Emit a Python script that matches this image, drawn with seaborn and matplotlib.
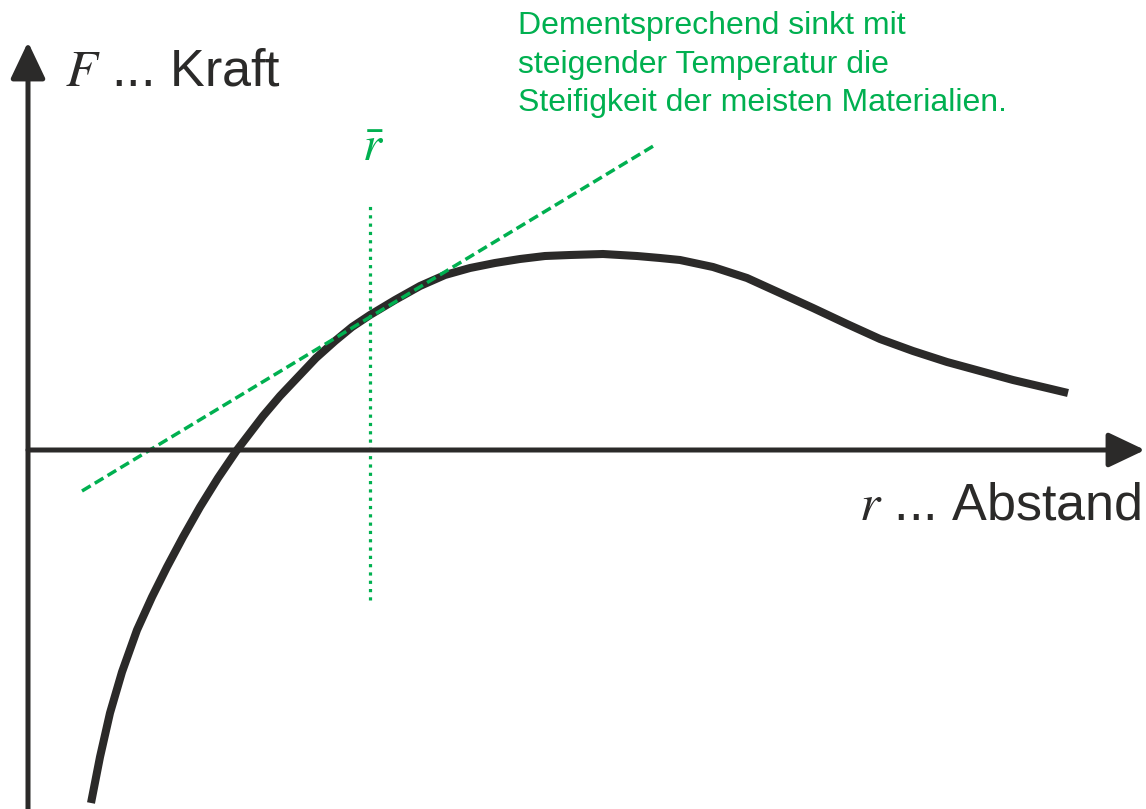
import matplotlib
matplotlib.use("Agg")
import matplotlib.pyplot as plt
import seaborn as sns
import numpy as np

# ---- data (schematic units: origin at axes crossing) ----
curve_r = [0.63, 0.72, 0.82, 0.94, 1.09, 1.24, 1.39, 1.55, 1.72, 1.90, 2.09,
           2.22, 2.35, 2.52, 2.70, 2.88, 3.07, 3.24, 3.42, 3.67, 3.92, 4.17,
           4.42, 4.67, 4.92, 5.17, 5.42, 5.75, 6.09, 6.32, 6.52, 6.85, 7.19,
           7.52, 7.85, 8.19, 8.52, 8.85, 9.19, 9.52, 9.85, 10.19, 10.40]
curve_F = [-3.53, -3.07, -2.63, -2.22, -1.80, -1.47, -1.17, -0.87, -0.57, -0.28, 0.00,
           0.17, 0.34, 0.54, 0.73, 0.92, 1.09, 1.23, 1.35, 1.50, 1.64, 1.75,
           1.82, 1.87, 1.91, 1.94, 1.95, 1.96, 1.94, 1.92, 1.90, 1.83, 1.72,
           1.57, 1.42, 1.26, 1.11, 0.99, 0.88, 0.79, 0.70, 0.62, 0.57]
tangent_r = [0.54, 6.27]
tangent_F = [-0.41, 3.05]
r_bar = 3.42
r_bar_span = [-1.50, 2.45]

x_axis_end = 11.17
y_axis_span = [-3.59, 4.08]

label_F = r"$F$ ... Kraft"
label_r = r"$r$ ... Abstand"
label_rbar = r"$\bar{r}$"
note_lines = ["Dementsprechend sinkt mit",
              "steigender Temperatur die",
              "Steifigkeit der meisten Materialien."]

DARK = "#2b2a29"
GREEN = "#00b050"

sns.set_theme(style="white")
plt.rcParams["font.family"] = ["Liberation Sans", "DejaVu Sans"]
plt.rcParams["mathtext.fontset"] = "stix"

W, H = 1146, 809
fig = plt.figure(figsize=(W / 100, H / 100), dpi=100)
ax = fig.add_axes([0, 0, 1, 1])
ax.set_xlim(-0.28, (W - 28) / 100)
ax.set_ylim((450 - H) / 100, 4.50)
ax.set_axis_off()

# axes arrows
arrow = dict(arrowstyle="-|>,head_length=0.4,head_width=0.19", mutation_scale=56,
             lw=3.6, color=DARK, shrinkA=0, shrinkB=0)
ax.annotate("", xy=(x_axis_end, 0), xytext=(0, 0), arrowprops=arrow)
ax.annotate("", xy=(0, y_axis_span[1]), xytext=(0, y_axis_span[0]), arrowprops=arrow)

# force curve
sns.lineplot(x=curve_r, y=curve_F, sort=False, estimator=None, errorbar=None,
             color=DARK, linewidth=5.8, solid_capstyle="butt",
             solid_joinstyle="round", ax=ax)

# tangent (dashed)
sns.lineplot(x=tangent_r, y=tangent_F, sort=False, estimator=None, errorbar=None,
             color=GREEN, linewidth=2.5, ax=ax)
ax.lines[-1].set_dashes((2.9, 1.4))
ax.lines[-1].set_dash_capstyle("butt")

# r-bar (dotted vertical)
sns.lineplot(x=[r_bar, r_bar], y=r_bar_span, sort=False, estimator=None, errorbar=None,
             color=GREEN, linewidth=2.3, ax=ax)
ax.lines[-1].set_dashes((1, 1.6))
ax.lines[-1].set_dash_capstyle("butt")

def fx(px):
    return px / W

def fy(py):
    return 1 - py / H

fig.text(fx(65), fy(85), label_F, fontsize=37.5, color=DARK, va="baseline", ha="left")
fig.text(fx(859), fy(520), label_r, fontsize=37.5, color=DARK, va="baseline", ha="left")
fig.text(fx(373), fy(161), label_rbar, fontsize=35, color=GREEN, va="baseline", ha="center")

for i, line in enumerate(note_lines):
    fig.text(fx(518), fy(34 + 38.5 * i), line, fontsize=23, color=GREEN,
             va="baseline", ha="left")

fig.savefig("out.png", dpi=100)
